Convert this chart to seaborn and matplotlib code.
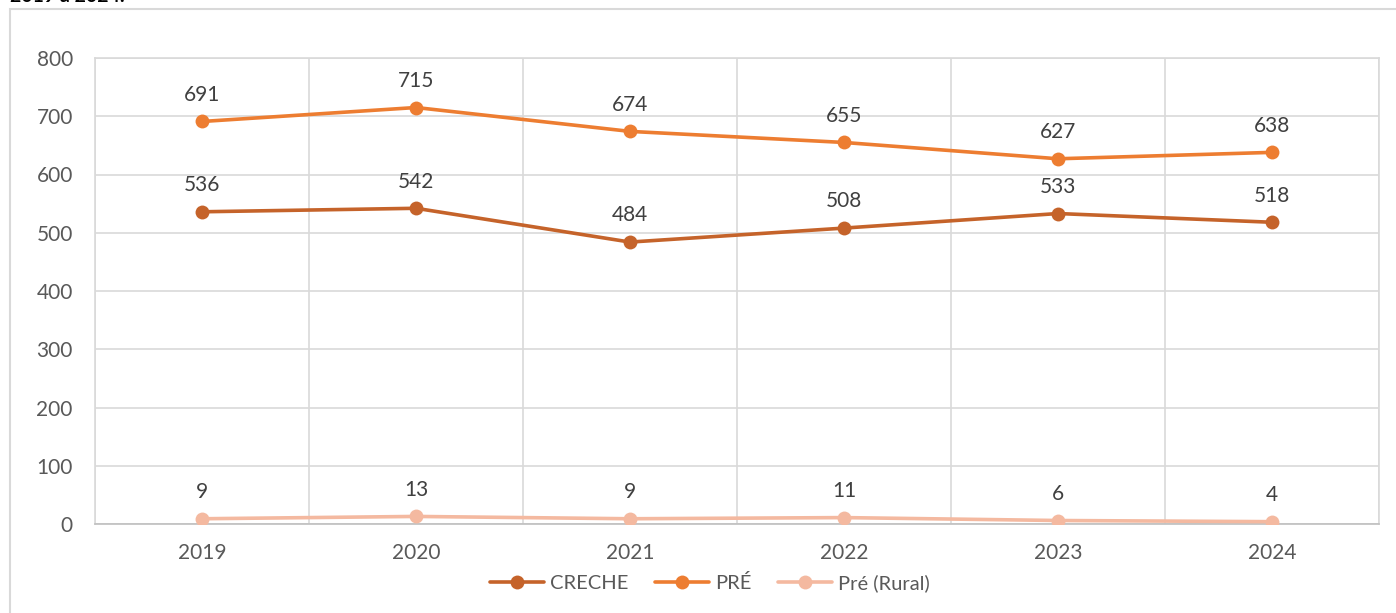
import pandas as pd
import matplotlib.pyplot as plt
import seaborn as sns
from matplotlib.patches import Rectangle
from matplotlib.ticker import MultipleLocator

# dados
anos = ['2019', '2020', '2021', '2022', '2023', '2024']
creche = [536, 542, 484, 508, 533, 518]
pre = [691, 715, 674, 655, 627, 638]
pre_rural = [9, 13, 9, 11, 6, 4]

series = ['CRECHE', 'PRÉ', 'Pré (Rural)']
cores = ['#C5632A', '#ED7D31', '#F4B9A0']

df = pd.DataFrame({
    'ano': anos * 3,
    'valor': creche + pre + pre_rural,
    'serie': [s for s in series for _ in anos],
})

sns.set_theme(style='white')
plt.rcParams['font.family'] = ['Lato', 'DejaVu Sans']

fig = plt.figure(figsize=(13.96, 6.13), dpi=100)
ax = fig.add_axes([95 / 1396, 1 - 524 / 613, (1379 - 95) / 1396, (524 - 58) / 613])

sns.lineplot(data=df, x='ano', y='valor', hue='serie', palette=cores,
             marker='o', markersize=10, markeredgewidth=0, linewidth=2.6,
             sort=False, ax=ax, zorder=3)

# rotulos de dados
for vals in [creche, pre, pre_rural]:
    for i, v in enumerate(vals):
        ax.annotate(str(v), (i, v), xytext=(0, 12), textcoords='offset points',
                    ha='center', va='bottom', fontsize=15, color='#404040')

ax.set_xlim(-0.5, 5.5)
ax.set_ylim(0, 800)
ax.yaxis.set_major_locator(MultipleLocator(100))
ax.set_xticks(range(len(anos)))
ax.set_xticks([i - 0.5 for i in range(len(anos) + 1)], minor=True)
ax.grid(True, axis='y', which='major', color='#D9D9D9', linewidth=1.2)
ax.grid(True, axis='x', which='minor', color='#D9D9D9', linewidth=1.2)
ax.grid(False, axis='x', which='major')
for s in ax.spines.values():
    s.set_color('#D9D9D9')
    s.set_linewidth(1.2)
ax.spines['bottom'].set_color('#BFBFBF')
ax.tick_params(axis='both', which='both', length=0, labelsize=15,
               labelcolor='#595959')
ax.tick_params(axis='x', pad=14)
ax.tick_params(axis='y', pad=16)
ax.set_xlabel('')
ax.set_ylabel('')

leg = ax.legend(loc='center', bbox_to_anchor=(710 / 1396, 1 - 583 / 613),
                bbox_transform=fig.transFigure, ncol=3, frameon=False,
                fontsize=14.5, handlelength=2.7, columnspacing=1.3,
                handletextpad=0.3)
for t in leg.get_texts():
    t.set_color('#595959')

# moldura do grafico
fig.add_artist(Rectangle((10 / 1396, -0.1), 1.2, 1 - 9 / 613 + 0.1,
                         transform=fig.transFigure, fill=False,
                         edgecolor='#D9D9D9', linewidth=1.5))

# texto cortado no topo (como na imagem original)
fig.text(10 / 1396, 1 + 3 / 613, '2019 a 2024.', ha='left', va='center',
         fontsize=14, color='black', fontweight='bold')

fig.savefig('out.png', dpi=100)
